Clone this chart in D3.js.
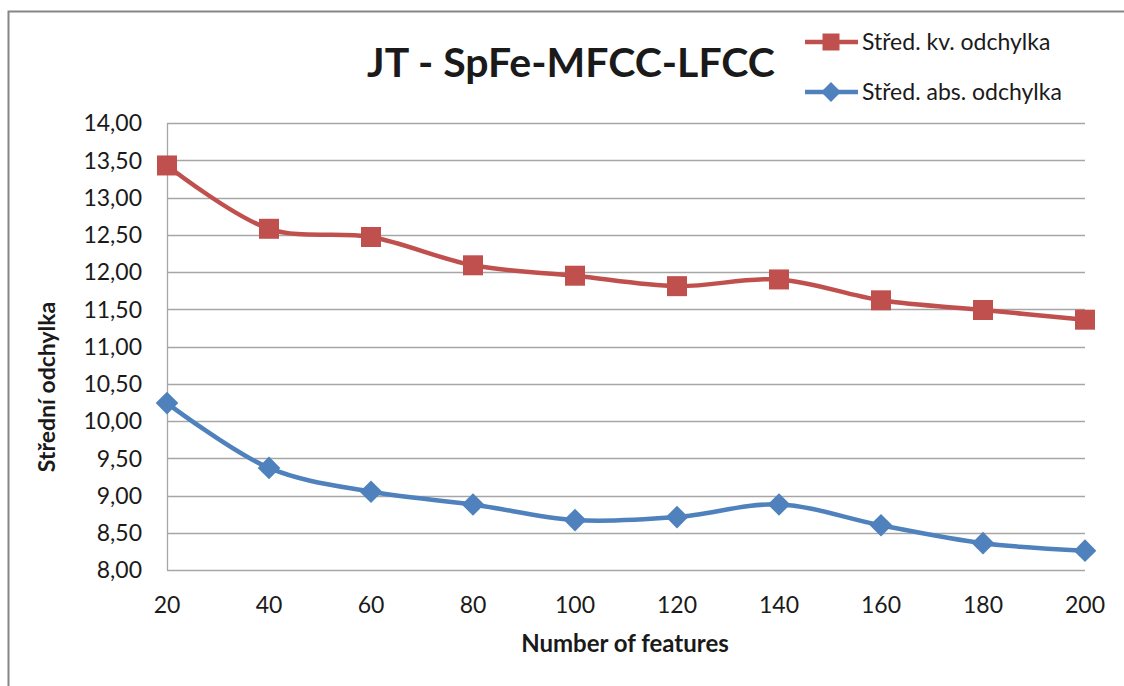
<!DOCTYPE html>
<html><head><meta charset="utf-8">
<script src="https://cdn.jsdelivr.net/npm/d3@7"></script>
<style>
  html,body{margin:0;padding:0;background:#fff}
  svg text{font-family:Lato,"Open Sans",sans-serif;fill:#1a1a1a}
</style></head>
<body><div id="chart"></div>
<script>
// JT - SpFe-MFCC-LFCC — mean deviation vs number of features
const features = [20,40,60,80,100,120,140,160,180,200];
const kvOdchylka  = [13.43,12.58,12.47,12.09,11.95,11.81,11.90,11.62,11.49,11.36];
const absOdchylka = [10.24,9.37,9.05,8.88,8.67,8.71,8.88,8.60,8.36,8.26];
const yTicks = [8,8.5,9,9.5,10,10.5,11,11.5,12,12.5,13,13.5,14];
const seriesNames = ['Střed. kv. odchylka','Střed. abs. odchylka'];
const seriesColors = ['#C0504D','#4F81BD'];

const W=1124, H=686, m={t:123,r:39,b:116,l:167};
const svg=d3.select('#chart').append('svg').attr('width',W).attr('height',H);
svg.append('rect').attr('x',8.5).attr('y',11.5).attr('width',W+20).attr('height',H+20)
  .attr('fill','#fff').attr('stroke','#868686').attr('stroke-width',2);

const x=d3.scalePoint().domain(features).range([m.l,W-m.r]);
const y=d3.scaleLinear().domain([8,14]).range([H-m.b,m.t]);
const fmt=v=>d3.format('.2f')(v).replace('.',',');

// gridlines
svg.append('g').selectAll('line').data(yTicks).join('line')
  .attr('x1',m.l).attr('x2',W-m.r).attr('y1',d=>Math.round(y(d))+0.5).attr('y2',d=>Math.round(y(d))+0.5)
  .attr('stroke','#a6a6a6').attr('stroke-width',1.3);
svg.append('line').attr('x1',m.l+0.5).attr('x2',m.l+0.5).attr('y1',y(14)).attr('y2',y(8))
  .attr('stroke','#a6a6a6').attr('stroke-width',1.3);

// axis labels
svg.append('g').selectAll('text').data(yTicks).join('text')
  .attr('x',142).attr('y',d=>y(d)).attr('dy','0.36em').attr('text-anchor','end')
  .attr('font-size',23).text(fmt);
svg.append('g').selectAll('text').data(features).join('text')
  .attr('x',d=>x(d)).attr('y',605).attr('dy','0.36em').attr('text-anchor','middle')
  .attr('font-size',23).text(d=>d);

svg.append('text').attr('x',625).attr('y',652).attr('text-anchor','middle')
  .attr('font-size',24).attr('font-weight',700).text('Number of features');
svg.append('text').attr('transform','translate(55,387) rotate(-90)').attr('text-anchor','middle')
  .attr('font-size',23).attr('font-weight',700).text('Střední odchylka');
svg.append('text').attr('x',571).attr('y',77).attr('text-anchor','middle')
  .attr('font-size',41).attr('font-weight',700).text('JT - SpFe-MFCC-LFCC');

// series
const line=d3.line().x((d,i)=>x(features[i])).y(d=>y(d)).curve(d3.curveCatmullRom.alpha(0.5));
const sq=(s)=>d3.symbol().type(d3.symbolSquare).size(s*s)();
const markers=[{path:sq(20),rot:0},{path:sq(16),rot:45}];
[kvOdchylka,absOdchylka].forEach((vals,k)=>{
  svg.append('path').attr('d',line(vals)).attr('fill','none')
    .attr('stroke',seriesColors[k]).attr('stroke-width',4.5);
  svg.append('g').selectAll('path').data(vals).join('path')
    .attr('transform',(d,i)=>`translate(${x(features[i])},${y(d)}) rotate(${markers[k].rot})`)
    .attr('d',markers[k].path).attr('fill',seriesColors[k]);
});

// legend
const legMarkers=[{path:sq(17),rot:0},{path:sq(14),rot:45}];
[42,92].forEach((ly,k)=>{
  svg.append('line').attr('x1',805).attr('x2',858).attr('y1',ly).attr('y2',ly)
    .attr('stroke',seriesColors[k]).attr('stroke-width',4.5);
  svg.append('path').attr('transform',`translate(831,${ly}) rotate(${legMarkers[k].rot})`)
    .attr('d',legMarkers[k].path).attr('fill',seriesColors[k]);
  svg.append('text').attr('x',862).attr('y',ly).attr('dy','0.36em')
    .attr('font-size',23).text(seriesNames[k]);
});
</script></body></html>
